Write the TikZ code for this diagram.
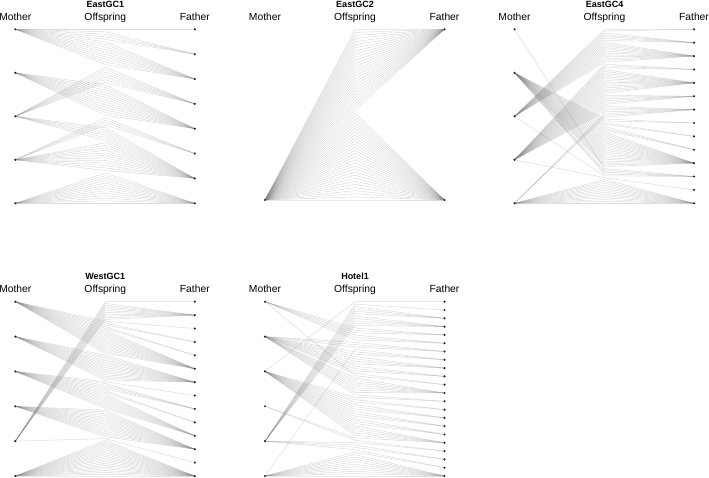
\documentclass[tikz,border=0pt]{standalone}
\usepackage{fontspec}
\setmainfont{Liberation Sans}
\pgfdeclarelayer{links}
\pgfsetlayers{links,main}
\tikzset{
  dot/.style={circle,fill=black!85,inner sep=0pt,minimum size=2.4pt},
  link/.style={draw=black!50,line width=0.55pt,opacity=0.26},
  paneltitle/.style={anchor=base,font=\fontsize{9}{10}\selectfont\bfseries},
  axislabel/.style={anchor=base,font=\fontsize{10.3}{12}\selectfont},
}
\newcount\kidno
% #1 prefix, #2 title, #3 x of mothers, #4 top, #5 bottom,
% #6 mothers, #7 fathers, #8 offspring, #9 mother/father/count groups
\newcommand\parentage[9]{%
  \node[paneltitle] (#1-title) at (#3+90,#4-21.8) {#2};
  \node[axislabel] (#1-mlabel) at (#3,#4-8.8) {Mother};
  \node[axislabel] (#1-olabel) at (#3+90,#4-8.8) {Offspring};
  \node[axislabel] (#1-flabel) at (#3+179.5,#4-8.8) {Father};
  \ifnum#6=1
    \node[dot] (#1-m1) at (#3,#5) {};
  \else
    \foreach \i in {1,...,#6}
      \node[dot] (#1-m\i) at (#3,{#4+(\i-1)/(#6-1)*(#5-#4)}) {};
  \fi
  \foreach \i in {1,...,#7}
    \node[dot] (#1-f\i) at (#3+179.5,{#4+(\i-1)/(#7-1)*(#5-#4)}) {};
  \foreach \i in {1,...,#8}
    \coordinate (#1-o\i) at (#3+90,{#4+(\i-1)/(#8-1)*(#5-#4)});
  \global\kidno=0
  \begin{pgfonlayer}{links}
  \foreach \mo/\fa/\cnt in {#9} {
    \foreach \k in {1,...,\cnt} {
      \global\advance\kidno by 1\relax
      \edef\kid{\the\kidno}
      \draw[link] (#1-m\mo.center) -- (#1-o\kid) -- (#1-f\fa.center);
    }
  }
  \end{pgfonlayer}
}

\begin{document}
\begin{tikzpicture}[x=1pt,y=-1pt]
\useasboundingbox (0,0) rectangle (709,478);

% EastGC1
\parentage{egc1}{EastGC1}{15.3}{29.3}{203.3}{5}{8}{70}
  {1/1/1,1/2/4,1/3/10,3/4/7,2/5/13,4/6/4,3/7/6,4/7/12,5/8/13}

% EastGC2
\parentage{egc2}{EastGC2}{265}{29.3}{200}{1}{2}{56}
  {1/1/27,1/2/29}

% EastGC4
\parentage{egc4}{EastGC4}{514.5}{29.3}{203.3}{5}{14}{96}
  {3/1/2,3/2/5,3/3/12,4/4/3,4/5/14,4/6/6,4/7/4,5/7/3,2/8/2,2/9/2,
   2/10/3,2/11/20,1/12/1,2/12/3,3/12/1,4/13/1,5/14/14}

% WestGC1
\parentage{wgc1}{WestGC1}{15.3}{301.7}{476}{6}{14}{99}
  {5/1/1,5/2/10,1/3/1,1/4/2,1/5/2,1/6/14,2/7/15,3/8/1,3/9/4,3/10/2,
   3/11/9,4/12/16,5/13/1,6/14/21}

% Hotel1
\parentage{htl1}{Hotel1}{265}{301.7}{476}{6}{22}{74}
  {3/1/1,5/2/1,5/3/4,5/4/5,1/5/3,1/6/3,2/7/3,6/8/1,2/8/2,2/9/4,
   2/10/3,2/11/1,1/11/1,2/12/7,2/13/1,3/13/1,3/14/2,3/15/3,3/16/3,
   3/17/3,3/18/5,4/18/1,4/19/1,5/19/1,5/20/2,5/21/1,6/21/1,6/22/10}

\end{tikzpicture}
\end{document}
